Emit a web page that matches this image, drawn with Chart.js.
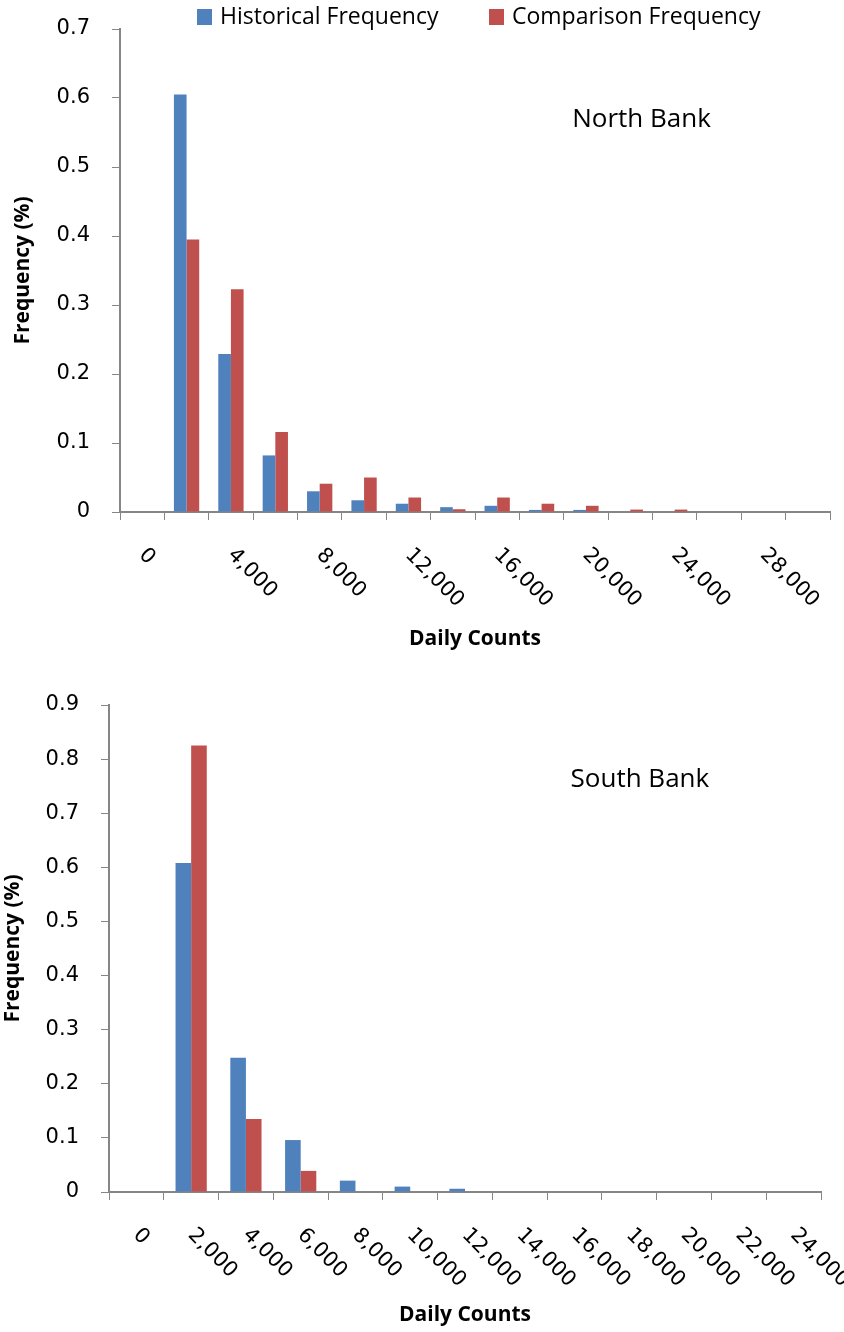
<!DOCTYPE html>
<html>
<head>
<meta charset="utf-8">
<title>Daily Counts Frequency</title>
<script src="https://cdn.jsdelivr.net/npm/chart.js@4.4.1/dist/chart.umd.min.js"></script>
<style>
  body { margin: 0; background: #fff; }
  .panel { position: relative; width: 844px; }
  canvas { display: block; }
  .legend-item {
    position: absolute; top: -1px; display: flex; align-items: flex-start;
    font: 23px 'Open Sans', sans-serif; color: #000; white-space: nowrap;
  }
  .legend-item i { display: inline-block; width: 15px; height: 16px; margin: 10px 8px 0 0; }
</style>
</head>
<body>
<div class="panel">
  <div id="legend"></div>
  <canvas id="northChart" width="844" height="665"></canvas>
</div>
<div class="panel">
  <canvas id="southChart" width="844" height="667"></canvas>
</div>

<script>
// ── Data ──────────────────────────────────────────────────────
const seriesNames = ['Historical Frequency', 'Comparison Frequency'];
const seriesColors = ['#4F81BD', '#C0504D'];

const northCategories = ['0', '2,000', '4,000', '6,000', '8,000', '10,000', '12,000', '14,000',
  '16,000', '18,000', '20,000', '22,000', '24,000', '26,000', '28,000', '30,000'];
const northTickLabels = ['0', '', '4,000', '', '8,000', '', '12,000', '',
  '16,000', '', '20,000', '', '24,000', '', '28,000', ''];
const northHistorical = [0, 0.605, 0.229, 0.082, 0.030, 0.017, 0.012, 0.007,
  0.009, 0.003, 0.003, 0, 0, 0, 0, 0];
const northComparison = [0, 0.395, 0.323, 0.116, 0.041, 0.050, 0.021, 0.004,
  0.021, 0.012, 0.009, 0.0035, 0.0035, 0, 0, 0];

const southCategories = ['0', '2,000', '4,000', '6,000', '8,000', '10,000', '12,000',
  '14,000', '16,000', '18,000', '20,000', '22,000', '24,000'];
const southTickLabels = southCategories;
const southHistorical = [0, 0.608, 0.248, 0.096, 0.021, 0.010, 0.006, 0, 0, 0, 0, 0, 0];
const southComparison = [0, 0.825, 0.135, 0.039, 0, 0, 0, 0, 0, 0, 0, 0, 0];

const axisGray = '#868686';

// ── Rotated category labels (text runs down-right from the tick) ──
const rotatedTicks = {
  id: 'rotatedTicks',
  afterDraw(chart, args, opts) {
    const xs = chart.scales.x;
    const ctx = chart.ctx;
    ctx.save();
    ctx.font = '21px "DejaVu Sans"';
    ctx.fillStyle = '#000';
    ctx.textAlign = 'left';
    ctx.textBaseline = 'middle';
    opts.labels.forEach((txt, i) => {
      if (!txt) return;
      ctx.save();
      ctx.translate(xs.getPixelForTick(i), xs.top + 40);
      ctx.rotate(Math.PI / 4);
      ctx.fillText(txt, 0, 0);
      ctx.restore();
    });
    ctx.restore();
  }
};

// ── Panel caption inside the plot area ────────────────────────
const panelNote = {
  id: 'panelNote',
  afterDraw(chart, args, opts) {
    const a = chart.chartArea;
    const ctx = chart.ctx;
    ctx.save();
    ctx.font = '26px "Open Sans"';
    ctx.fillStyle = '#000';
    ctx.textAlign = 'center';
    ctx.textBaseline = 'alphabetic';
    ctx.fillText(opts.text, a.left + a.width * opts.fx, a.top + a.height * opts.fy);
    ctx.restore();
  }
};

function renderPanel(canvasId, p) {
  const ctx = document.getElementById(canvasId).getContext('2d');
  return new Chart(ctx, {
    type: 'bar',
    data: {
      labels: p.categories,
      datasets: [
        { label: seriesNames[0], data: p.historical, backgroundColor: seriesColors[0] },
        { label: seriesNames[1], data: p.comparison, backgroundColor: seriesColors[1] }
      ]
    },
    plugins: [rotatedTicks, panelNote],
    options: {
      responsive: false,
      animation: false,
      devicePixelRatio: 1,
      categoryPercentage: 0.57,
      barPercentage: 1.0,
      layout: { padding: p.padding },
      plugins: {
        legend: { display: false },
        tooltip: { enabled: false },
        rotatedTicks: { labels: p.tickLabels },
        panelNote: p.note
      },
      scales: {
        x: {
          grid: { offset: true, drawOnChartArea: false, tickLength: 8, color: axisGray },
          border: { color: axisGray, width: 2 },
          ticks: { display: false },
          title: {
            display: true, text: 'Daily Counts', color: '#000',
            font: { family: "'Open Sans'", size: 21, weight: 'bold' },
            padding: { top: 0, bottom: p.xTitleBottom }
          },
          afterFit: s => { s.height = p.xHeight; }
        },
        y: {
          min: 0, max: p.yMax,
          grid: { drawOnChartArea: false, tickLength: 8, color: axisGray },
          border: { color: axisGray, width: 2 },
          ticks: {
            stepSize: 0.1, padding: 22, color: '#000',
            font: { family: "'DejaVu Sans'", size: 21 },
            callback: v => (v === 0 ? '0' : v.toFixed(1))
          },
          title: {
            display: true, text: 'Frequency (%)', color: '#000',
            font: { family: "'Open Sans'", size: 21, weight: 'bold' },
            padding: { top: p.yTitleLeft, bottom: 0 }
          },
          // fixed width, and no extra room reserved above/below for the end labels
          afterFit: s => { s.width = p.yWidth; s.paddingTop = 0; s.paddingBottom = 0; }
        }
      }
    }
  });
}

// ── Legend (top panel) ────────────────────────────────────────
const legendLeft = [197, 489];
document.getElementById('legend').innerHTML = seriesNames.map((n, i) =>
  `<div class="legend-item" style="left:${legendLeft[i]}px"><i style="background:${seriesColors[i]}"></i>${n}</div>`
).join('');

renderPanel('northChart', {
  categories: northCategories, tickLabels: northTickLabels,
  historical: northHistorical, comparison: northComparison,
  yMax: 0.7, padding: { top: 29, right: 14, bottom: 0, left: 0 },
  xHeight: 153, xTitleBottom: 13, yWidth: 120, yTitleLeft: 10,
  note: { text: 'North Bank', fx: 0.7346, fy: 0.202 }
});

renderPanel('southChart', {
  categories: southCategories, tickLabels: southTickLabels,
  historical: southHistorical, comparison: southComparison,
  yMax: 0.9, padding: { top: 40, right: 23, bottom: 0, left: 0 },
  xHeight: 140, xTitleBottom: 4, yWidth: 109, yTitleLeft: 0,
  note: { text: 'South Bank', fx: 0.7456, fy: 0.1677 }
});
</script>
</body>
</html>
